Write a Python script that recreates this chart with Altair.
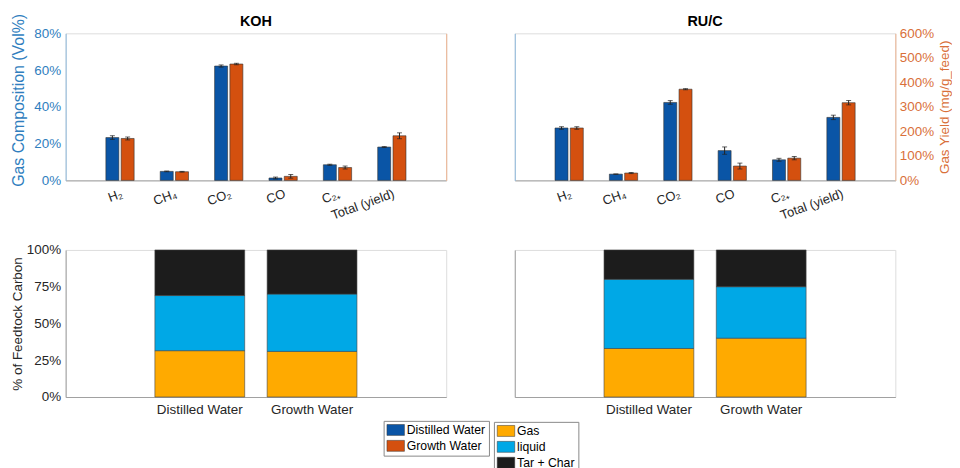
import altair as alt
import pandas as pd

FONT = "Liberation Sans"
BLUE_BAR = "#0A55A6"
ORANGE_BAR = "#D4500F"
AX_BLUE = "#2F7EBE"
AX_BLUE_LINE = "#8DB8DC"
AX_ORANGE = "#D9703A"
AX_ORANGE_LINE = "#EDB38F"
TXT = "#262626"
FRAME = "#A0A0A0"

# ---------------- data ----------------
gas_categories = ["H₂", "CH₄", "CO₂", "CO", "C₂₊"]
total_category = "Total (yield)"
water_types = ["Distilled Water", "Growth Water"]

# gas composition (vol %), left axis
koh_comp_distilled = [23.3, 4.9, 62.2, 1.3, 8.5]
koh_comp_growth = [22.8, 4.7, 63.3, 2.2, 7.0]
koh_comp_err_distilled = [1.0, 0.2, 0.6, 0.5, 0.3]
koh_comp_err_growth = [0.8, 0.2, 0.4, 1.0, 0.8]
ruc_comp_distilled = [28.5, 3.4, 42.4, 16.2, 11.2]
ruc_comp_growth = [28.5, 4.0, 49.6, 7.8, 12.1]
ruc_comp_err_distilled = [0.7, 0.1, 1.0, 2.0, 0.8]
ruc_comp_err_growth = [0.7, 0.3, 0.3, 1.6, 0.9]

# total gas yield (%), right axis  [distilled, growth]
koh_yield = [136, 182]
koh_yield_err = [2, 12]
ruc_yield = [257, 317]
ruc_yield_err = [9, 9]

# carbon distribution (% of feedstock carbon)
products = ["Gas", "liquid", "Tar + Char"]
product_colors = ["#FFAA00", "#00A8E6", "#1C1C1C"]
koh_carbon_distilled = [31.5, 37.5, 31.0]
koh_carbon_growth = [31.0, 39.0, 30.0]
ruc_carbon_distilled = [33.0, 47.0, 20.0]
ruc_carbon_growth = [40.0, 35.0, 25.0]

all_categories = gas_categories + [total_category]
W, H = 383, 148

legend_symbol = "M-1.6,-1H1.6V1H-1.6Z"


def legend_params(x, y):
    return alt.Legend(
        orient="none", legendX=x, legendY=y, direction="vertical", title=None,
        symbolType=legend_symbol, symbolSize=121, symbolStrokeColor="#333333",
        symbolStrokeWidth=0.5, symbolOpacity=1, symbolOffset=3,
        labelFont=FONT, labelFontSize=12.3, labelColor="black", labelOffset=5,
        strokeColor="#888888", fillColor="white", padding=3, rowPadding=2,
        cornerRadius=0,
    )


def top_panel(title, title_dy, comp_d, comp_g, err_d, err_g, yld, yld_err,
              left_labels, right_labels, legend):
    comp_rows = []
    for i, c in enumerate(gas_categories):
        for w, v, e in ((water_types[0], comp_d[i], err_d[i]), (water_types[1], comp_g[i], err_g[i])):
            comp_rows.append({"cat": c, "water": w, "val": v, "lo": v - e, "hi": v + e})
    comp_df = pd.DataFrame(comp_rows)
    yld_df = pd.DataFrame([
        {"cat": total_category, "water": w, "val": yld[k], "lo": yld[k] - yld_err[k], "hi": yld[k] + yld_err[k]}
        for k, w in enumerate(water_types)
    ])

    xenc = alt.X("cat:N", sort=all_categories,
                 scale=alt.Scale(domain=all_categories, paddingInner=0.48, paddingOuter=0.74),
                 axis=alt.Axis(title=None, labelAngle=-20, labelAlign="right", labelBaseline="top",
                               labelPadding=7, labelFontSize=13, labelColor=TXT, labelFont=FONT,
                               domainColor=FRAME, ticks=False, tickSize=0))
    xoff = alt.XOffset("water:N", scale=alt.Scale(domain=water_types, paddingInner=0.15))
    color = alt.Color("water:N", scale=alt.Scale(domain=water_types, range=[BLUE_BAR, ORANGE_BAR]),
                      legend=legend)

    left_axis = alt.Axis(
        title="Gas Composition (Vol%)" if left_labels else None,
        labels=left_labels, values=[0, 20, 40, 60, 80], labelExpr="datum.value + '%'",
        labelColor=AX_BLUE, labelFontSize=13.5, labelFont=FONT, labelPadding=5,
        titleColor=AX_BLUE, titleFontSize=16, titleFont=FONT, titleFontWeight="normal",
        titlePadding=7, titleY=67, domainColor=AX_BLUE_LINE, ticks=False, tickSize=0, grid=False,
    )
    right_axis = alt.Axis(
        orient="right",
        title="Gas Yield (mg/g_feed)" if right_labels else None,
        labels=right_labels, values=[0, 100, 200, 300, 400, 500, 600], labelExpr="datum.value + '%'",
        labelColor=AX_ORANGE, labelFontSize=13.5, labelFont=FONT, labelPadding=4,
        titleColor=AX_ORANGE, titleFontSize=13.5, titleFont=FONT, titleFontWeight="normal",
        titleAngle=270, titleBaseline="top", titlePadding=4,
        domainColor=AX_ORANGE_LINE, ticks=False, tickSize=0, grid=False,
    )
    lscale = alt.Scale(domain=[0, 80], nice=False)
    rscale = alt.Scale(domain=[0, 600], nice=False)

    def group(df, scale, axis):
        bars = alt.Chart(df).mark_bar(stroke="#333333", strokeWidth=0.6).encode(
            x=xenc, xOffset=xoff, y=alt.Y("val:Q", scale=scale, axis=axis), color=color)
        err = alt.Chart(df).mark_rule(color="#222222", strokeWidth=1).encode(
            x=xenc, xOffset=xoff, y=alt.Y("lo:Q", scale=scale, axis=axis), y2="hi:Q")
        cap_lo = alt.Chart(df).mark_tick(color="#222222", thickness=1, size=5).encode(
            x=xenc, xOffset=xoff, y=alt.Y("lo:Q", scale=scale, axis=axis))
        cap_hi = alt.Chart(df).mark_tick(color="#222222", thickness=1, size=5).encode(
            x=xenc, xOffset=xoff, y=alt.Y("hi:Q", scale=scale, axis=axis))
        return alt.layer(bars, err, cap_lo, cap_hi)

    return alt.layer(group(comp_df, lscale, left_axis), group(yld_df, rscale, right_axis)).resolve_scale(
        y="independent"
    ).properties(
        width=W, height=H,
        title=alt.TitleParams(title, fontSize=14.5, fontWeight="bold", font=FONT, color="black",
                              offset=5, dy=title_dy, anchor="middle", frame="group"),
    )


def bottom_panel(dist, grow, show_axis, legend):
    rows = []
    for w, vals in ((water_types[0], dist), (water_types[1], grow)):
        for k, p in enumerate(products):
            rows.append({"water": w, "product": p, "value": vals[k], "order": k})
    df = pd.DataFrame(rows)
    return alt.Chart(df).mark_bar(stroke="#444444", strokeWidth=0.6).encode(
        x=alt.X("water:N", sort=water_types,
                scale=alt.Scale(domain=water_types, paddingInner=0.2, paddingOuter=0.795),
                axis=alt.Axis(title=None, labelAngle=0, labelFontSize=13.5, labelColor=TXT,
                              labelFont=FONT, labelPadding=6, domainColor=FRAME,
                              ticks=False, tickSize=0)),
        y=alt.Y("value:Q", stack="zero", scale=alt.Scale(domain=[0, 100], nice=False),
                axis=alt.Axis(title="% of Feedtock Carbon" if show_axis else None, labels=show_axis,
                              values=[0, 25, 50, 75, 100], labelExpr="datum.value + '%'",
                              labelFontSize=13.5, labelColor=TXT, labelFont=FONT, labelPadding=5,
                              titleFontSize=13.5, titleColor=TXT, titleFont=FONT,
                              titleFontWeight="normal", titlePadding=2,
                              domainColor=FRAME, ticks=False, tickSize=0, grid=False)),
        color=alt.Color("product:N", scale=alt.Scale(domain=products, range=product_colors),
                        legend=legend),
        order=alt.Order("order:Q", sort="ascending"),
    ).properties(width=W, height=H)


tl = top_panel("KOH", 21, koh_comp_distilled, koh_comp_growth, koh_comp_err_distilled,
               koh_comp_err_growth, koh_yield, koh_yield_err, True, False, legend_params(320, 390))
tr = top_panel("RU/C", 8, ruc_comp_distilled, ruc_comp_growth, ruc_comp_err_distilled,
               ruc_comp_err_growth, ruc_yield, ruc_yield_err, False, True, None)
bl = bottom_panel(koh_carbon_distilled, koh_carbon_growth, True, legend_params(431, 173))
br = bottom_panel(ruc_carbon_distilled, ruc_carbon_growth, False, None)

chart = alt.concat(
    tl, tr, bl, br, columns=2, spacing={"row": 70, "column": 69}, bounds="flush"
).resolve_scale(
    color="independent"
).properties(
    padding={"left": 1, "top": 3, "right": 0, "bottom": 0},
    background="white",
).configure_view(stroke=FRAME, strokeWidth=1).configure(font=FONT)

chart.save("out.html", embed_options={"renderer": "svg", "actions": False})
